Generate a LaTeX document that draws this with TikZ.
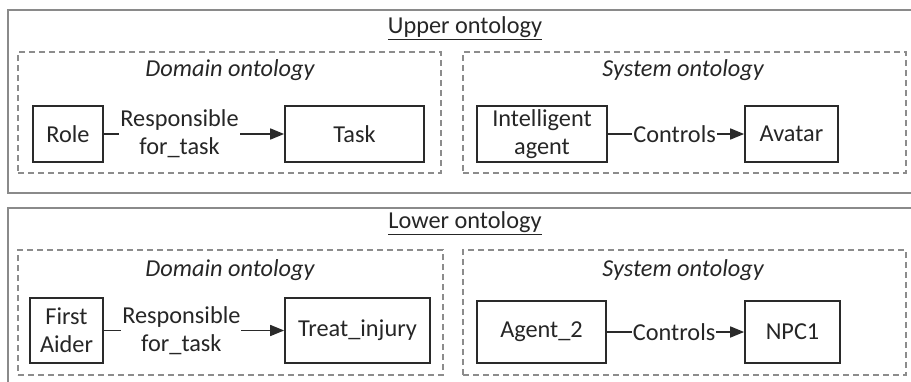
\documentclass[tikz,border=0pt]{standalone}
\usepackage{fontspec}
\setmainfont{Carlito}
\usetikzlibrary{arrows.meta}
\definecolor{txt}{HTML}{262626}
\definecolor{outerc}{HTML}{8A8A8A}
\definecolor{dashc}{HTML}{8C8C8C}
\definecolor{boxc}{HTML}{2A2A2A}
\begin{document}
\begin{tikzpicture}[x=1pt,y=-1pt,
  every node/.style={font=\fontsize{24.3}{28}\selectfont, text=txt},
  outerbox/.style={draw=outerc, line width=1.6pt, anchor=north west, inner sep=0pt},
  dbox/.style={draw=dashc, line width=1.2pt, dash pattern=on 6pt off 4pt, inner sep=0pt},
  ent/.style={draw=boxc, line width=1.7pt, align=center, inner sep=0pt},
  rel/.style={draw=boxc, line width=1.7pt, -{Triangle[length=14pt,width=11pt]}},
  rlab/.style={fill=white, align=center, inner sep=1pt},
  dtitle/.style={font=\fontsize{24.3}{28}\selectfont\itshape},
]
\useasboundingbox (0,0) rectangle (911,381);
\clip (0,0) rectangle (911,381);
% ---------- Upper ontology ----------
\node[outerbox, minimum width=930pt, minimum height=183pt] (upper) at (7,9) {};
\node (uptitle) at (465,28) {\underline{Upper ontology}};
\node[dbox, minimum width=423pt, minimum height=121pt] (udom) at (229.5,112.5) {};
\node[dtitle] (udomt) at (230,70) {Domain ontology};
\node[ent, minimum width=70pt, minimum height=56pt] (role) at (68,134) {Role};
\node[ent, minimum width=139pt, minimum height=56pt] (task) at (354.5,134) {Task};
\draw[rel] (role) -- node[rlab, pos=0.42] (ulab1) {Responsible\\for\_task} (task);
\node[dbox, minimum width=443pt, minimum height=121pt] (usys) at (684.5,112.5) {};
\node[dtitle] (usyst) at (683,70) {System ontology};
\node[ent, minimum width=130pt, minimum height=56pt] (iagent) at (542,134) {Intelligent\\agent};
\node[ent, minimum width=93pt, minimum height=56pt] (avatar) at (791.5,134) {Avatar};
\draw[rel] (iagent) -- node[rlab, pos=0.49] (ulab2) {Controls} (avatar);
% ---------- Lower ontology ----------
\node[outerbox, minimum width=930pt, minimum height=200pt] (lower) at (7,207) {};
\node (lotitle) at (465,223) {\underline{Lower ontology}};
\node[dbox, minimum width=425pt, minimum height=125pt] (ldom) at (230.5,312.5) {};
\node[dtitle] (ldomt) at (230,270) {Domain ontology};
\node[ent, minimum width=73pt, minimum height=65pt] (aider) at (66.5,330.5) {First\\Aider};
\node[ent, minimum width=145pt, minimum height=65pt] (treat) at (357.5,330.5) {Treat\_injury};
\draw[rel] (aider) -- node[rlab, pos=0.43] (llab1) {Responsible\\for\_task} (treat);
\node[dbox, minimum width=443pt, minimum height=125pt] (lsys) at (684.5,312.5) {};
\node[dtitle] (lsyst) at (683,270) {System ontology};
\node[ent, minimum width=129pt, minimum height=62pt] (agent2) at (541.5,332) {Agent\_2};
\node[ent, minimum width=95pt, minimum height=62pt] (npc) at (792.5,332) {NPC1};
\draw[rel] (agent2) -- node[rlab, pos=0.49] (llab2) {Controls} (npc);
\end{tikzpicture}
\end{document}
